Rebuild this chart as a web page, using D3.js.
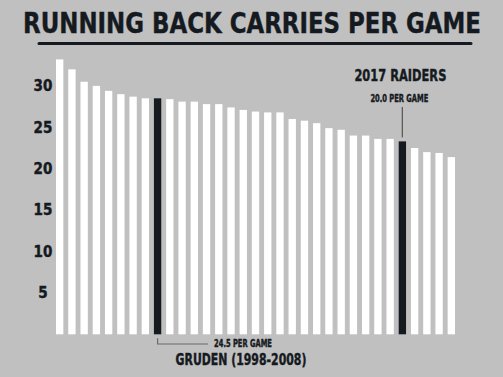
<html>
  <head>
    <title>Running back carries per game</title>
    <script src="https://d3js.org/d3.v7.min.js"></script>
    <style>
      body { margin: 0; background: #c0c0c0; }
      text { font-family: "Liberation Sans Narrow", "DejaVu Sans Condensed", "Liberation Sans", sans-serif; font-weight: bold; fill: #151a21; stroke: #151a21; stroke-width: 0.4; }
    </style>
  </head>
  <body>
    <svg width="503" height="377" id="chart"></svg>
  </body>

  <script type="text/javascript">
    // carries per game, one bar per team season, sorted high to low
    var teams = d3.range(33);
    var carries = [33.2, 32.0, 30.5, 30.0, 29.4, 29.0, 28.7, 28.5, 28.5, 28.4, 28.1,
                   28.1, 27.8, 27.8, 27.4, 27.1, 26.9, 26.8, 26.8, 26.0, 25.8, 25.5,
                   24.9, 24.7, 24.0, 24.0, 23.6, 23.6, 23.3, 22.5, 22.0, 21.9, 21.4];
    var tickValues = [5, 10, 15, 20, 25, 30];
    var gruden = 8;   // highlighted bars
    var raiders = 28;

    var svg = d3.select("#chart");
    var dark = "#151a21";

    svg.append("rect").attr("width", 503).attr("height", 377).attr("fill", "#c0c0c0");

    var x = d3.scaleBand()
        .domain(teams)
        .range([56, 455])
        .paddingInner(0.4)
        .paddingOuter(0);

    var y = d3.scaleLinear()
        .domain([0, 35])
        .range([334.3, 334.3 - 35 * 8.28]);

    // squeeze a text to a given width around its centre
    function fitWidth(sel, cx, w) {
        var natural = sel.node().getComputedTextLength();
        var k = w / natural;
        sel.attr("x", 0).attr("transform", "translate(" + cx + "," + sel.attr("y") + ") scale(" + k + ",1)")
           .attr("y", 0);
    }

    // title + rule under it
    var title = svg.append("text")
        .attr("y", 33)
        .attr("text-anchor", "middle")
        .attr("font-size", 28)
        .attr("stroke-width", 1)
        .text("RUNNING BACK CARRIES PER GAME");
    fitWidth(title, 252, 458);

    svg.append("line")
        .attr("x1", 39).attr("x2", 471)
        .attr("y1", 43.5).attr("y2", 43.5)
        .attr("stroke", dark)
        .attr("stroke-width", 3)
        .attr("stroke-linecap", "round");

    // bars
    svg.append("g").selectAll("rect")
        .data(carries)
        .enter().append("rect")
        .attr("x", function(d, i){ return x(i); })
        .attr("y", function(d){ return y(d); })
        .attr("width", x.bandwidth())
        .attr("height", function(d){ return y(0) - y(d); })
        .attr("fill", function(d, i){ return (i == gruden || i == raiders) ? dark : "#ffffff"; });

    // y axis, labels only
    var yAxis = d3.axisLeft(y)
        .tickValues(tickValues)
        .tickSize(0)
        .tickPadding(0);

    var ax = svg.append("g")
        .attr("transform", "translate(43,0)")
        .call(yAxis);
    ax.select(".domain").remove();
    ax.selectAll("text")
        .attr("text-anchor", "middle")
        .attr("x", 0)
        .attr("font-size", 15)
        .attr("font-family", null)
        .attr("fill", dark)
        .attr("stroke-width", 0.7);

    // 2017 Raiders callout
    var rx = x(raiders) + x.bandwidth() / 2;
    var t1 = svg.append("text")
        .attr("y", 81)
        .attr("text-anchor", "middle")
        .attr("font-size", 16)
        .attr("stroke-width", 0.6)
        .text("2017 RAIDERS");
    fitWidth(t1, rx - 2, 92);
    var t2 = svg.append("text")
        .attr("y", 101.7)
        .attr("text-anchor", "middle")
        .attr("font-size", 10)
        .text("20.0 PER GAME");
    fitWidth(t2, rx - 3, 58);
    svg.append("line")
        .attr("x1", rx).attr("x2", rx)
        .attr("y1", 107).attr("y2", y(carries[raiders]) - 4)
        .attr("stroke", "#5a5a5a")
        .attr("stroke-width", 1.3);

    // Gruden callout
    var gx = x(gruden) + x.bandwidth() / 2;
    svg.append("path")
        .attr("d", "M" + gx + "," + (y(0) + 4) + "V344H208")
        .attr("fill", "none")
        .attr("stroke", "#6a6a6a")
        .attr("stroke-width", 1.2);
    var t3 = svg.append("text")
        .attr("y", 346.7)
        .attr("text-anchor", "middle")
        .attr("font-size", 10)
        .text("24.5 PER GAME");
    fitWidth(t3, 243, 58);
    var t4 = svg.append("text")
        .attr("y", 365)
        .attr("text-anchor", "middle")
        .attr("font-size", 15)
        .attr("stroke-width", 0.6)
        .text("GRUDEN (1998-2008)");
    fitWidth(t4, 241, 131);
  </script>
</html>
